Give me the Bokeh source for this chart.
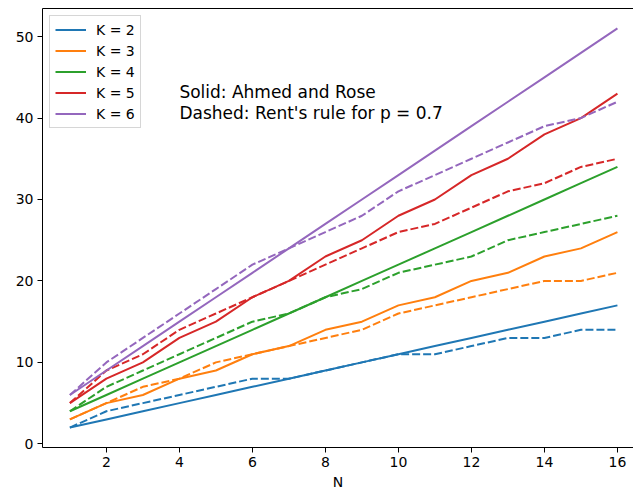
from bokeh.plotting import figure
from bokeh.models import Range1d, Legend, LegendItem, FixedTicker, Label, LinearAxis
from bokeh.embed import file_html
from bokeh.resources import INLINE

N = list(range(1, 17))

ahmed_k2 = [2, 3, 4, 5, 6, 7, 8, 9, 10, 11, 12, 13, 14, 15, 16, 17]
ahmed_k3 = [3, 5, 6, 8, 9, 11, 12, 14, 15, 17, 18, 20, 21, 23, 24, 26]
ahmed_k4 = [4, 6, 8, 10, 12, 14, 16, 18, 20, 22, 24, 26, 28, 30, 32, 34]
ahmed_k5 = [5, 8, 10, 13, 15, 18, 20, 23, 25, 28, 30, 33, 35, 38, 40, 43]
ahmed_k6 = [6, 9, 12, 15, 18, 21, 24, 27, 30, 33, 36, 39, 42, 45, 48, 51]

rent_k2 = [2, 4, 5, 6, 7, 8, 8, 9, 10, 11, 11, 12, 13, 13, 14, 14]
rent_k3 = [3, 5, 7, 8, 10, 11, 12, 13, 14, 16, 17, 18, 19, 20, 20, 21]
rent_k4 = [4, 7, 9, 11, 13, 15, 16, 18, 19, 21, 22, 23, 25, 26, 27, 28]
rent_k5 = [5, 9, 11, 14, 16, 18, 20, 22, 24, 26, 27, 29, 31, 32, 34, 35]
rent_k6 = [6, 10, 13, 16, 19, 22, 24, 26, 28, 31, 33, 35, 37, 39, 40, 42]

labels = ["K = 2", "K = 3", "K = 4", "K = 5", "K = 6"]
colors = ["#1f77b4", "#ff7f0e", "#2ca02c", "#d62728", "#9467bd"]
ahmed = [ahmed_k2, ahmed_k3, ahmed_k4, ahmed_k5, ahmed_k6]
rent = [rent_k2, rent_k3, rent_k4, rent_k5, rent_k6]

x_ticks = [2, 4, 6, 8, 10, 12, 14, 16]
y_ticks = [0, 10, 20, 30, 40, 50]

FONT = "DejaVu Sans"

p = figure(width=633, height=492, output_backend="svg", toolbar_location=None,
           x_range=Range1d(0.25, 16.44), y_range=Range1d(-0.45, 53.45),
           x_axis_location=None, y_axis_location=None,
           min_border_left=42, min_border_right=0, min_border_top=8,
           min_border_bottom=45)
p.background_fill_color = "white"
p.border_fill_color = "white"
p.xgrid.visible = False
p.ygrid.visible = False
p.outline_line_color = None

items = []
for lab, col, a, r in zip(labels, colors, ahmed, rent):
    ls = p.line(N, a, line_color=col, line_width=2)
    p.line(N, r, line_color=col, line_width=2, line_dash="8 3")
    items.append(LegendItem(label=lab, renderers=[ls]))

xa = LinearAxis(ticker=FixedTicker(ticks=x_ticks))
ya = LinearAxis(ticker=FixedTicker(ticks=y_ticks))
for ax in [xa, ya]:
    ax.axis_line_color = "black"
    ax.axis_line_width = 1
    ax.major_tick_line_color = "black"
    ax.major_tick_out = 5
    ax.major_tick_in = 0
    ax.minor_tick_line_color = None
    ax.major_label_text_font = FONT
    ax.major_label_text_font_size = "14px"
    ax.major_label_text_color = "black"
    ax.major_label_standoff = 4
xa.axis_label = "N"
xa.axis_label_text_font = FONT
xa.axis_label_text_font_size = "14px"
xa.axis_label_text_font_style = "normal"
xa.axis_label_text_color = "black"
xa.axis_label_standoff = 4
p.add_layout(xa, "below")
p.add_layout(ya, "left")

# top spine
top_axis = LinearAxis(ticker=FixedTicker(ticks=[]), major_label_text_font_size="0px",
                      major_tick_out=0, major_tick_in=0, minor_tick_out=0, minor_tick_in=0,
                      major_label_standoff=0, minor_tick_line_color=None,
                      major_tick_line_color=None, axis_line_color="black", axis_line_width=1)
p.add_layout(top_axis, "above")

legend = Legend(items=items, location="top_left")
legend.margin = 7
legend.padding = 5
legend.spacing = 4
legend.glyph_height = 17
legend.glyph_width = 31
legend.label_height = 17
legend.label_standoff = 10
legend.label_text_font = FONT
legend.label_text_font_size = "14px"
legend.label_text_color = "black"
legend.border_line_color = "#cccccc"
legend.border_line_alpha = 0.8
legend.background_fill_alpha = 0.8
p.add_layout(legend)

p.add_layout(Label(x=4, y=43.2, text="Solid: Ahmed and Rose", text_font=FONT,
                   text_font_size="17px", text_baseline="alphabetic", text_color="black"))
p.add_layout(Label(x=4, y=40.6, text="Dashed: Rent's rule for p = 0.7", text_font=FONT,
                   text_font_size="17px", text_baseline="alphabetic", text_color="black"))

open("out.html", "w").write(file_html(p, INLINE))
